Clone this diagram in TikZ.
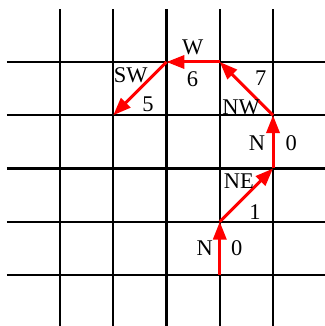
\documentclass[tikz,border=0pt]{standalone}
\usepackage{fontspec}
\setmainfont{Liberation Serif}
\usepackage{xcolor}
\usepackage{tikz}
\usetikzlibrary{arrows.meta}
\definecolor{passoVermelho}{HTML}{FF0000}

\begin{document}
\begin{tikzpicture}[every node/.style={font=\fontsize{12}{14}\selectfont, inner sep=0pt},
  gridline/.style={line width=1.25pt, black},
  move/.style={line width=1.6pt, passoVermelho, -{Triangle[length=9.5pt,width=7pt]}}]
\useasboundingbox (-0.127,0.042) rectangle (5.976,6.164);
% grid
\foreach \i in {1,...,5}{
  \draw[gridline] (\i,0) -- (\i,6);
  \draw[gridline] (0,\i) -- (6,\i);
}
% chain points
\coordinate (p0) at (4,1);
\coordinate (p1) at (4,2);
\coordinate (p2) at (5,3);
\coordinate (p3) at (5,4);
\coordinate (p4) at (4,5);
\coordinate (p5) at (3,5);
\coordinate (p6) at (2,4);
% moves
\draw[move] (p0) -- (p1);
\draw[move] (p1) -- (p2);
\draw[move] (p2) -- (p3);
\draw[move] (p3) -- (p4);
\draw[move] (p4) -- (p5);
\draw[move] (p5) -- (p6);
% direction labels and codes
\node (dirA) at (3.72,1.50) {N};
\node (codA) at (4.32,1.50) {0};
\node (dirB) at (4.36,2.77) {NE};
\node (codB) at (4.66,2.18) {1};
\node (dirC) at (4.70,3.48) {N};
\node (codC) at (5.34,3.48) {0};
\node (dirD) at (4.40,4.15) {NW};
\node (codD) at (4.77,4.70) {7};
\node (dirE) at (3.49,5.27) {W};
\node (codE) at (3.49,4.68) {6};
\node (dirF) at (2.33,4.75) {SW};
\node (codF) at (2.65,4.21) {5};
\end{tikzpicture}
\end{document}
